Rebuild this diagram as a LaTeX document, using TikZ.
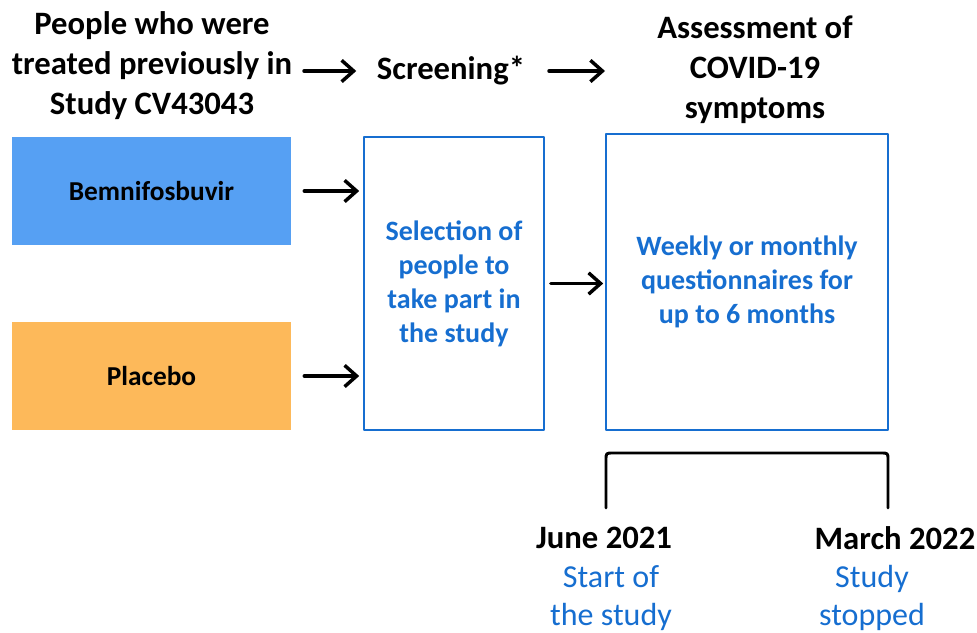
\documentclass[tikz,border=0pt]{standalone}
\usepackage{fontspec}
\setmainfont{Carlito}
\usetikzlibrary{arrows.meta}
\definecolor{armblue}{RGB}{86,160,243}
\definecolor{armorange}{RGB}{253,185,90}
\definecolor{txtblue}{RGB}{22,110,208}
\tikzset{
  arr/.style={line width=2.6pt,-{Straight Barb[length=9pt,width=16pt]}},
  armbox/.style={minimum width=209.25pt,minimum height=81pt,inner sep=0pt,font=\fontsize{20.5}{24}\selectfont\bfseries},
  stagebox/.style={draw=txtblue,line width=1.2pt,inner sep=0pt,align=center,text=txtblue,font=\fontsize{21}{25.5}\selectfont\bfseries},
  head/.style={align=center,font=\fontsize{24.5}{30}\selectfont\bfseries},
  datelbl/.style={font=\fontsize{24.5}{29}\selectfont\bfseries},
  notelbl/.style={align=center,text=txtblue,font=\fontsize{24}{29}\selectfont}
}
\begin{document}
\begin{tikzpicture}[x=0.75pt,y=-0.75pt,line cap=round,line join=round]
\useasboundingbox (0,0) rectangle (977,632);
% headers
\node[head] (people) at (152,66) {People who were\\treated previously in\\Study CV43043};
\node[head] (screen) at (451,71) {Screening*};
\node[head] (assess) at (755,70) {Assessment of\\COVID-19\\symptoms};
% boxes
\node[armbox,fill=armblue] (bem) at (151.5,191) {Bemnifosbuvir};
\node[armbox,fill=armorange] (plc) at (151.5,376) {Placebo};
\node[stagebox,minimum width=135pt,minimum height=219.75pt] (sel) at (454,283.5) {Selection of\\people to\\take part in\\the study};
\node[stagebox,minimum width=211.5pt,minimum height=222pt] (week) at (747,282) {Weekly or monthly\\questionnaires for\\up to 6 months};
% arrows
\draw[arr,shorten <=9.75pt,shorten >=3pt] (bem.east) -- (sel.west|-bem.east);
\draw[arr,shorten <=9.75pt,shorten >=3pt] (plc.east) -- (sel.west|-plc.east);
\draw[arr,shorten <=4.5pt,shorten >=1.5pt] (sel.east) -- (week.west|-sel.east);
\coordinate (a1) at (304,71);
\coordinate (b1) at (549,71);
\draw[arr,shorten >=12pt] (a1) -- (screen.west|-a1);
\draw[arr] (b1) -- ++(56,0) coordinate (b2);
% bracket
\draw[line width=2.2pt] (606,508) -- (606,460) .. controls (606,453) .. (613,453) -- (881,453) .. controls (888,453) .. (888,460) -- (888,508);
% dates
\node[datelbl] (start) at (604,538) {June 2021};
\node[datelbl] (stop) at (895,538) {March 2022};
\node[notelbl] (startnote) at (611,598) {Start of\\the study};
\node[notelbl] (stopnote) at (872,598) {Study\\stopped};
\end{tikzpicture}
\end{document}
